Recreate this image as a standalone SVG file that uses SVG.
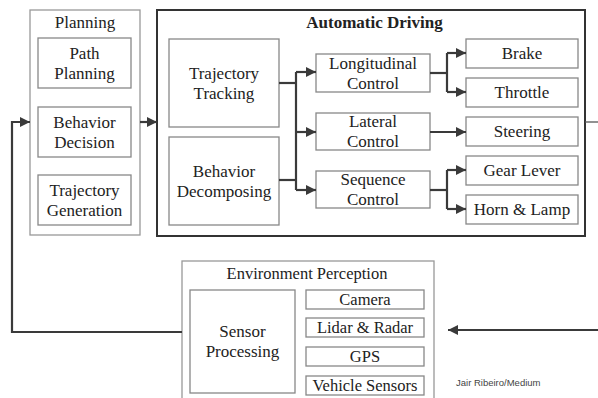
<svg xmlns="http://www.w3.org/2000/svg" width="598" height="398" viewBox="0 0 598 398">
<style>
.box{fill:#fff;stroke:#888;stroke-width:1.3}
.outer{fill:#fff;stroke:#999;stroke-width:1.3}
.main{fill:#fff;stroke:#333;stroke-width:2}
text{font-family:'Liberation Serif','Times New Roman','DejaVu Serif',serif;fill:#222;text-anchor:middle}
.t{font-size:17px}
.ts{font-size:16.5px}
.tb{font-size:17px;font-weight:bold}
.c{fill:none;stroke:#3a3a3a;stroke-width:2.2}
.thin{fill:none;stroke:#555;stroke-width:1.3}
text.credit{font-family:'Liberation Sans',Arial,sans-serif;font-size:9.5px;fill:#444;text-anchor:start}
</style>
<defs>
<marker id="ah" viewBox="0 0 10 10" refX="10" refY="5" markerWidth="10" markerHeight="10" markerUnits="userSpaceOnUse" orient="auto">
<path d="M0,0 L10,5 L0,10 z" fill="#3a3a3a"/>
</marker>
</defs>

<g id="planning">
<rect class="outer" x="30" y="10" width="110" height="225"/>
<text class="t" x="85" y="28">Planning</text>
</g>
<g id="path-planning">
<rect class="box" x="38" y="38" width="93" height="50"/>
<text class="t" x="84.5" y="58.75">Path</text>
<text class="t" x="84.5" y="78.75">Planning</text>
</g>
<g id="behavior-decision">
<rect class="box" x="38" y="107" width="93" height="50"/>
<text class="t" x="84.5" y="127.75">Behavior</text>
<text class="t" x="84.5" y="147.75">Decision</text>
</g>
<g id="trajectory-generation">
<rect class="box" x="38" y="175" width="93" height="50"/>
<text class="t" x="84.5" y="195.75">Trajectory</text>
<text class="t" x="84.5" y="215.75">Generation</text>
</g>

<g id="automatic-driving">
<rect class="main" x="157" y="10" width="428" height="226"/>
<text class="tb" x="374.5" y="28">Automatic Driving</text>
</g>
<g id="trajectory-tracking">
<rect class="box" x="169" y="39" width="110" height="88"/>
<text class="t" x="224" y="78.75">Trajectory</text>
<text class="t" x="224" y="98.75">Tracking</text>
</g>
<g id="behavior-decomposing">
<rect class="box" x="169" y="137" width="110" height="88"/>
<text class="t" x="224" y="176.75">Behavior</text>
<text class="t" x="224" y="196.75">Decomposing</text>
</g>
<g id="longitudinal-control">
<rect class="box" x="316" y="54" width="114" height="38"/>
<text class="t" x="373" y="68.75">Longitudinal</text>
<text class="t" x="373" y="88.75">Control</text>
</g>
<g id="lateral-control">
<rect class="box" x="316" y="113" width="114" height="37"/>
<text class="t" x="373" y="127">Lateral</text>
<text class="t" x="373" y="147">Control</text>
</g>
<g id="sequence-control">
<rect class="box" x="316" y="171" width="114" height="37"/>
<text class="t" x="373" y="185">Sequence</text>
<text class="t" x="373" y="205">Control</text>
</g>
<g id="brake">
<rect class="box" x="466" y="39" width="112" height="29"/>
<text class="t" x="522" y="59">Brake</text>
</g>
<g id="throttle">
<rect class="box" x="466" y="78" width="112" height="29"/>
<text class="t" x="522" y="98">Throttle</text>
</g>
<g id="steering">
<rect class="box" x="466" y="117" width="112" height="29"/>
<text class="t" x="522" y="137">Steering</text>
</g>
<g id="gear-lever">
<rect class="box" x="466" y="156" width="112" height="29"/>
<text class="t" x="522" y="176">Gear Lever</text>
</g>
<g id="horn-lamp">
<rect class="box" x="466" y="195" width="112" height="29"/>
<text class="t" x="522" y="215">Horn &amp; Lamp</text>
</g>

<g id="environment-perception">
<rect class="outer" x="182" y="261" width="252" height="140"/>
<text class="ts" x="307" y="279">Environment Perception</text>
</g>
<g id="sensor-processing">
<rect class="box" x="190" y="290" width="105" height="103"/>
<text class="t" x="242.5" y="337">Sensor</text>
<text class="t" x="242.5" y="357">Processing</text>
</g>
<g id="camera">
<rect class="box" x="306" y="290" width="118" height="19"/>
<text class="ts" x="365" y="305">Camera</text>
</g>
<g id="lidar-radar">
<rect class="box" x="306" y="318" width="118" height="19"/>
<text class="ts" x="365" y="333">Lidar &amp; Radar</text>
</g>
<g id="gps">
<rect class="box" x="306" y="347" width="118" height="19"/>
<text class="ts" x="365" y="362">GPS</text>
</g>
<g id="vehicle-sensors">
<rect class="box" x="306" y="376" width="118" height="19"/>
<text class="ts" x="365" y="391">Vehicle Sensors</text>
</g>

<g id="connectors">
<path class="c" d="M182,332 H12 V122 H30" marker-end="url(#ah)"/>
<path class="c" d="M140,122 H157" marker-end="url(#ah)"/>
<path class="c" d="M279,83 H296"/>
<path class="c" d="M279,180 H296"/>
<path class="c" d="M296,72 V190"/>
<path class="c" d="M296,72 H316" marker-end="url(#ah)"/>
<path class="c" d="M296,132 H316" marker-end="url(#ah)"/>
<path class="c" d="M296,190 H316" marker-end="url(#ah)"/>
<path class="c" d="M430,73 H447"/>
<path class="c" d="M447,53 V92"/>
<path class="c" d="M447,53 H466" marker-end="url(#ah)"/>
<path class="c" d="M447,92 H466" marker-end="url(#ah)"/>
<path class="c" d="M430,132 H466" marker-end="url(#ah)"/>
<path class="c" d="M430,190 H447"/>
<path class="c" d="M447,170 V209"/>
<path class="c" d="M447,170 H466" marker-end="url(#ah)"/>
<path class="c" d="M447,209 H466" marker-end="url(#ah)"/>
<path class="thin" d="M585,122 H598"/>
<path class="c" d="M598,330 H448" marker-end="url(#ah)"/>
</g>

<text class="credit" x="456" y="386">Jair Ribeiro/Medium</text>
</svg>
